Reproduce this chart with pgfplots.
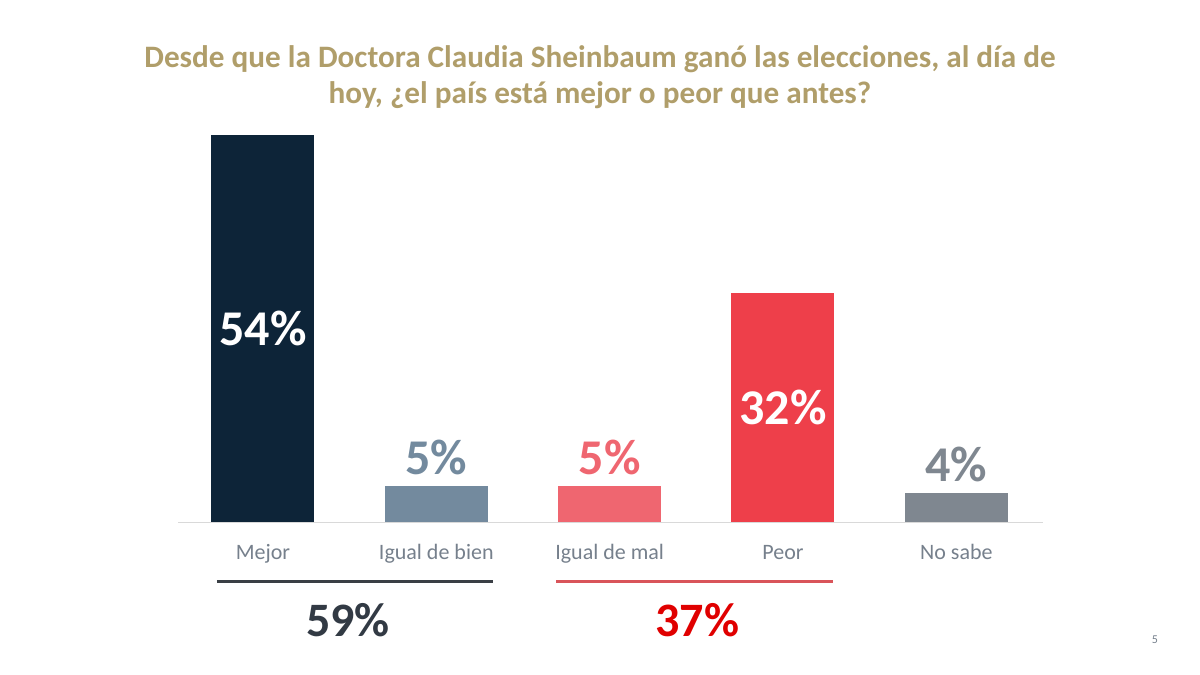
\documentclass[border=0pt]{standalone}
\usepackage{pgfplots}
\pgfplotsset{compat=1.18}
\usepackage{fontspec}
\setmainfont{Carlito}
\definecolor{gold}{RGB}{176,158,106}
\definecolor{navy}{RGB}{13,36,56}
\definecolor{slate}{RGB}{115,138,158}
\definecolor{pinkred}{RGB}{239,102,112}
\definecolor{red1}{RGB}{238,63,74}
\definecolor{grey1}{RGB}{127,135,144}
\definecolor{ticktxt}{RGB}{118,128,140}
\definecolor{dark59}{RGB}{50,58,68}
\definecolor{red37}{RGB}{224,0,0}
\definecolor{line1}{RGB}{58,63,69}
\definecolor{line2}{RGB}{217,84,90}
\begin{document}
\begin{tikzpicture}
\path[use as bounding box] (0,0) rectangle (600pt,337.5pt);
\node[font=\bfseries\fontsize{15.6pt}{18pt}\selectfont, text=gold, align=center] at (300pt,299pt)
 {Desde que la Doctora Claudia Sheinbaum ganó las elecciones, al día de\\hoy, ¿el país está mejor o peor que antes?};
\node[font=\fontsize{6pt}{7pt}\selectfont, text=ticktxt] at (577.5pt,17.5pt) {5};
\begin{axis}[
  at={(89pt,76.5pt)}, anchor=south west,
  scale only axis, width=432.5pt, height=215pt,
  xmin=-0.49, xmax=4.5, ymin=0, ymax=60,
  hide y axis,
  axis x line*=bottom,
  x axis line style={draw=black!15, line width=0.5pt},
  xtick={0,1,2,3,4},
  xticklabels={Mejor, Igual de bien, Igual de mal, Peor, No sabe},
  xtick style={draw=none},
  xticklabel style={font=\fontsize{11pt}{13pt}\selectfont, text=ticktxt, anchor=base, yshift=-14.5pt},
  ybar, bar width=51.5pt,
  clip=false,
  point meta=explicit symbolic,
  every node near coord/.append style={font=\bfseries\fontsize{25pt}{30pt}\selectfont, anchor=base, yshift=6pt},
]
\addplot[draw=none, fill=navy, bar shift=0pt] coordinates {(0,54)};
\addplot[draw=none, fill=slate, bar shift=0pt, nodes near coords, nodes near coords style={text=slate}] coordinates {(1,5) [5\%]};
\addplot[draw=none, fill=pinkred, bar shift=0pt, nodes near coords, nodes near coords style={text=pinkred}] coordinates {(2,5) [5\%]};
\addplot[draw=none, fill=red1, bar shift=0pt] coordinates {(3,32)};
\addplot[draw=none, fill=grey1, bar shift=0pt, nodes near coords, nodes near coords style={text=grey1}] coordinates {(4,4) [4\%]};
% inside labels
\addplot[only marks, mark=none, nodes near coords, nodes near coords style={text=white, anchor=center, yshift=-6pt}] coordinates {(0,27) [54\%] (3,16) [32\%]};
% group summaries
\draw[line1, line width=1.5pt] (axis cs:-0.266,-8.37) -- (axis cs:1.328,-8.37);
\draw[line2, line width=1.5pt] (axis cs:1.691,-8.37) -- (axis cs:3.29,-8.37);
\node[font=\bfseries\fontsize{24pt}{28pt}\selectfont, text=dark59] at (axis cs:0.49,-13.67) {59\%};
\node[font=\bfseries\fontsize{24pt}{28pt}\selectfont, text=red37] at (axis cs:2.505,-13.67) {37\%};
\end{axis}
\end{tikzpicture}
\end{document}
